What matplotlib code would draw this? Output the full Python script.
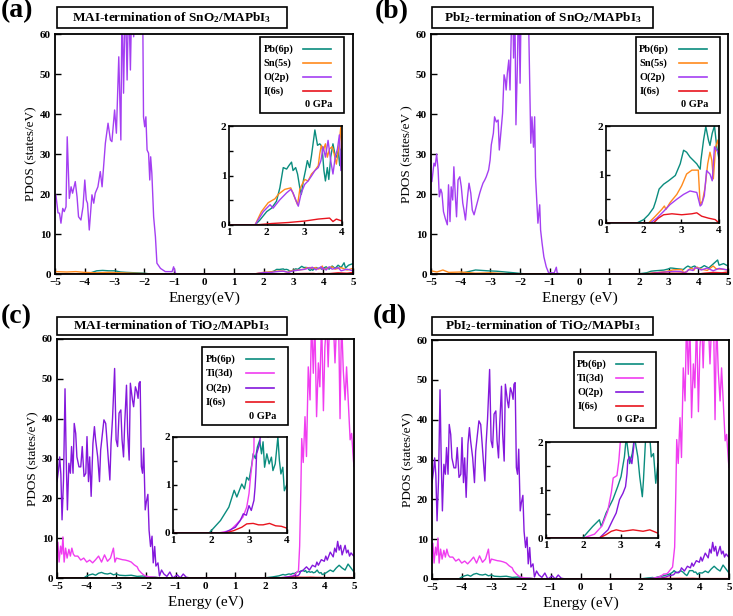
import numpy as np
import matplotlib
matplotlib.use('Agg')
import matplotlib.pyplot as plt
from matplotlib.patches import Rectangle
from matplotlib.lines import Line2D

plt.rcParams['font.family'] = 'Liberation Serif'
plt.rcParams['font.weight'] = 'bold'
plt.rcParams['mathtext.fontset'] = 'custom'
plt.rcParams['mathtext.rm'] = 'Liberation Serif:bold'
plt.rcParams['mathtext.default'] = 'rm'

# ---------------- panel (a): MAI-termination of SnO2 ----------------
a_pb_left = [(-5, 0), (-3.9, 0), (-3.8, 0.3), (-3.6, 0.8), (-3.4, 0.9), (-3.2, 0.8), (-3.0, 0.8),
             (-2.8, 0.5), (-2.6, 0.4), (-2.3, 0.3), (-2.0, 0.2), (-1.8, 0), (1.6, 0)]
a_pb_ins = [(1.69, 0), (1.82, 0.1), (2.0, 0.27), (2.13, 0.34), (2.26, 0.48), (2.35, 0.75), (2.44, 1.16),
            (2.53, 1.13), (2.59, 1.2), (2.66, 1.27), (2.7, 1.1), (2.77, 1.16), (2.82, 1.03), (2.88, 0.75),
            (2.92, 0.62), (2.98, 0.92), (3.03, 1.1), (3.08, 1.3), (3.14, 1.16), (3.19, 1.4), (3.28, 1.92),
            (3.35, 1.61), (3.41, 1.64), (3.47, 1.58), (3.52, 1.1), (3.56, 0.89), (3.61, 1.16), (3.65, 0.92),
            (3.7, 1.37), (3.76, 1.64), (3.81, 1.44), (3.86, 1.37), (3.9, 1.5), (3.94, 1.2), (3.98, 1.54), (4.0, 1.44)]
a_pb_tail = [(4.1, 1.8), (4.2, 1.2), (4.3, 2.0), (4.4, 1.4), (4.5, 2.2), (4.6, 1.6), (4.7, 2.8), (4.75, 1.5),
             (4.85, 2.2), (5.0, 2.6)]

a_sn_left = [(-5, 0.6), (-4.6, 0.5), (-4.3, 0.6), (-4.0, 0.4), (-3.6, 0.3), (-3.2, 0.4), (-2.8, 0.3),
             (-2.4, 0.2), (-2.0, 0.1), (-1.6, 0), (1.6, 0)]
a_sn_ins = [(1.69, 0), (1.86, 0.27), (2.04, 0.45), (2.22, 0.53), (2.31, 0.62), (2.48, 0.72), (2.64, 0.75),
            (2.73, 0.58), (2.82, 0.41), (2.88, 0.72), (2.94, 0.82), (3.01, 0.92), (3.1, 0.89), (3.19, 1.03),
            (3.28, 1.1), (3.37, 1.2), (3.41, 1.44), (3.45, 1.61), (3.5, 1.5), (3.56, 1.64), (3.61, 1.37),
            (3.67, 1.54), (3.74, 1.58), (3.79, 1.44), (3.85, 1.23), (3.91, 1.54), (3.97, 1.99), (4.0, 1.23)]
a_sn_tail = [(4.1, 1.4), (4.3, 1.8), (4.4, 1.2), (4.6, 1.6), (4.8, 1.0), (5.0, 1.4)]

a_o_left = [(-5.0, 19.8), (-4.97, 19.8), (-4.90, 15.3), (-4.85, 15.2), (-4.80, 12.7), (-4.74, 16.4),
            (-4.69, 15.6), (-4.63, 16.8), (-4.59, 34.3), (-4.52, 18.9), (-4.46, 21.8), (-4.41, 20.2),
            (-4.32, 23.1), (-4.26, 19.3), (-4.21, 14.3), (-4.13, 13.5), (-4.06, 16.8), (-4.00, 23.5),
            (-3.95, 18.5), (-3.91, 17.7), (-3.85, 11.0), (-3.76, 19.8), (-3.70, 17.7), (-3.65, 20.2),
            (-3.56, 21.8), (-3.48, 25.6), (-3.42, 21.8), (-3.39, 24.8), (-3.31, 32.7), (-3.22, 37.7),
            (-3.14, 33.5), (-3.09, 33.1), (-3.00, 41.0), (-2.94, 35.2), (-2.86, 54.3), (-2.79, 33.5),
            (-2.75, 70), (-2.70, 45.2), (-2.64, 70), (-2.58, 48.5), (-2.53, 70), (-2.47, 51), (-2.42, 70),
            (-2.36, 59.3), (-2.30, 70), (-2.17, 70), (-2.06, 70), (-2.03, 39.3), (-1.99, 36.8),
            (-1.95, 39.3), (-1.91, 31), (-1.86, 30.2), (-1.82, 23.5), (-1.79, 29.3), (-1.75, 25.2),
            (-1.69, 14.3), (-1.63, 9.3), (-1.58, 2.7), (-1.46, 1.4), (-1.30, 0.6), (-1.07, 0.6),
            (-1.02, 1.8), (-0.96, 0.2), (-0.9, 0), (1.6, 0)]
a_o_ins = [(1.69, 0), (1.91, 0.27), (2.09, 0.41), (2.17, 0.34), (2.35, 0.51), (2.53, 0.65), (2.64, 0.72),
           (2.7, 0.65), (2.77, 0.51), (2.84, 0.38), (2.92, 0.65), (3.01, 0.82), (3.1, 0.89), (3.19, 0.99),
           (3.28, 1.1), (3.37, 1.16), (3.44, 1.3), (3.5, 1.58), (3.56, 1.37), (3.63, 1.71), (3.7, 1.3),
           (3.76, 1.03), (3.82, 1.37), (3.88, 1.54), (3.93, 1.82), (3.97, 1.1), (4.0, 1.5)]
a_o_tail = [(4.1, 1.0), (4.2, 1.8), (4.3, 1.2), (4.5, 1.6), (4.6, 0.8), (4.8, 1.2), (5.0, 0.8)]

a_i_left = [(-5, 0), (1.6, 0)]
a_i_ins = [(1.69, 0), (2.13, 0.03), (2.57, 0.05), (3.01, 0.08), (3.37, 0.12), (3.67, 0.14), (3.76, 0.07),
           (3.85, 0.12), (4.0, 0.08)]
a_i_tail = [(4.2, 0.1), (4.5, 0.3), (4.8, 0.2), (5.0, 0.4)]

# ---------------- panel (b): PbI2-termination of SnO2 ----------------
b_pb_left = [(-5, 0), (-4.1, 0), (-3.8, 0.5), (-3.5, 1.0), (-3.3, 0.9), (-3.1, 0.8), (-2.8, 0.7),
             (-2.5, 0.5), (-2.2, 0.3), (-1.8, 0), (1.75, 0)]
b_pb_ins = [(1.82, 0), (2.0, 0.07), (2.13, 0.17), (2.26, 0.31), (2.32, 0.45), (2.41, 0.7), (2.53, 0.8),
            (2.66, 0.87), (2.84, 0.98), (2.97, 1.22), (3.06, 1.5), (3.14, 1.46), (3.23, 1.36), (3.32, 1.29),
            (3.41, 1.22), (3.5, 1.11), (3.52, 1.29), (3.59, 1.71), (3.65, 1.99), (3.72, 1.71), (3.76, 1.6),
            (3.82, 1.85), (3.88, 2.0), (3.94, 1.57), (4.0, 1.32)]
b_pb_tail = [(4.1, 1.6), (4.2, 2.1), (4.35, 1.5), (4.5, 2.5), (4.65, 3.5), (4.7, 2.2), (4.85, 2.6), (5.0, 2.0)]

b_sn_left = [(-5, 0.8), (-4.8, 0.5), (-4.6, 1.0), (-4.4, 0.4), (-4.0, 0.5), (-3.5, 0.2), (-3.0, 0.3),
             (-2.5, 0.1), (-2.0, 0), (2.05, 0)]
b_sn_ins = [(2.13, 0), (2.31, 0.14), (2.48, 0.28), (2.55, 0.35), (2.59, 0.28), (2.7, 0.42), (2.88, 0.59),
            (3.01, 0.77), (3.14, 1.01), (3.28, 1.09), (3.45, 1.09), (3.5, 0.38), (3.56, 0.45), (3.63, 0.73),
            (3.7, 1.22), (3.76, 1.46), (3.81, 1.29), (3.85, 0.91), (3.91, 1.57), (3.97, 1.71), (4.0, 1.5)]
b_sn_tail = [(4.1, 1.2), (4.3, 0.9), (4.5, 2.0), (4.6, 1.3), (4.8, 1.2), (5.0, 1.0)]

b_o_left = [(-5.0, 23.1), (-4.97, 23.1), (-4.90, 27.7), (-4.86, 27), (-4.81, 30), (-4.76, 26), (-4.72, 19.3),
            (-4.67, 21.2), (-4.63, 20.2), (-4.58, 15.6), (-4.52, 13.9), (-4.45, 12.3), (-4.41, 22.3),
            (-4.36, 13.1), (-4.32, 21.8), (-4.27, 18.5), (-4.23, 26.8), (-4.18, 19.3), (-4.14, 14.3),
            (-4.09, 23.5), (-4.03, 24.3), (-3.98, 21.8), (-3.93, 17.7), (-3.89, 16), (-3.84, 13.5),
            (-3.77, 19.3), (-3.72, 22.7), (-3.66, 20.2), (-3.61, 16), (-3.55, 14.8), (-3.48, 16.8),
            (-3.42, 18.5), (-3.36, 20.2), (-3.31, 21.4), (-3.25, 22.7), (-3.19, 23.5), (-3.14, 24.3),
            (-3.06, 26), (-3.01, 28.5), (-2.97, 32.3), (-2.90, 35.2), (-2.86, 39.3), (-2.80, 38),
            (-2.74, 38.5), (-2.70, 31), (-2.63, 36.8), (-2.59, 40.2), (-2.54, 49.8), (-2.50, 48.5),
            (-2.47, 46), (-2.43, 50.2), (-2.38, 53.5), (-2.34, 46), (-2.30, 59.3), (-2.25, 70), (-2.22, 54),
            (-2.18, 70), (-2.14, 37.3), (-2.09, 52.7), (-2.05, 70), (-2.00, 47.7), (-1.96, 70), (-1.73, 70),
            (-1.64, 32.7), (-1.60, 39.3), (-1.55, 31.7), (-1.51, 39.3), (-1.48, 24.3), (-1.40, 12.7),
            (-1.34, 17.3), (-1.31, 11), (-1.26, 7.7), (-1.20, 4.3), (-1.12, 1.8), (-1.04, 0.3), (-0.85, 0.3),
            (-0.78, 1.7), (-0.75, 0.2), (-0.6, 0), (2.1, 0)]
b_o_ins = [(2.17, 0), (2.35, 0.1), (2.53, 0.24), (2.7, 0.38), (2.88, 0.49), (3.06, 0.59), (3.23, 0.66),
           (3.41, 0.63), (3.5, 0.35), (3.54, 0.38), (3.61, 0.56), (3.67, 1.08), (3.76, 1.01), (3.82, 0.87),
           (3.88, 1.57), (3.94, 1.5), (4.0, 1.43)]
b_o_tail = [(4.1, 1.0), (4.3, 1.5), (4.5, 0.8), (4.7, 1.4), (5.0, 1.0)]

b_i_left = [(-5, 0), (2.2, 0)]
b_i_ins = [(2.26, 0), (2.39, 0.1), (2.53, 0.17), (2.75, 0.19), (3.01, 0.17), (3.28, 0.19), (3.41, 0.21),
           (3.54, 0.14), (3.72, 0.1), (3.9, 0.07), (4.0, 0.0)]
b_i_tail = [(4.2, 0.2), (4.5, 0.4), (4.8, 0.3), (5.0, 0.5)]

# ---------------- panels (c), (d): TiO2 (main curves shared) ----------------
cd_pb_left = [(-5, 0), (-4.1, 0), (-4.0, 0.5), (-3.9, 0.8), (-3.8, 1.0), (-3.7, 0.7), (-3.6, 1.2),
              (-3.5, 1.4), (-3.4, 1.1), (-3.3, 1.0), (-3.2, 1.2), (-3.1, 0.8), (-3.0, 1.0), (-2.9, 0.7),
              (-2.7, 0.6), (-2.5, 0.7), (-2.3, 0.4), (-2.1, 0.5), (-1.9, 0.2), (-1.7, 0.2), (-1.5, 0), (1.9, 0)]
cd_pb_tail = [(4.1, 1.5), (4.2, 2.0), (4.3, 1.6), (4.4, 2.5), (4.5, 3.2), (4.6, 2.5), (4.7, 2.0),
              (4.8, 3.5), (4.9, 2.5), (5.0, 1.5)]

cd_ti_left = [(-5.00, 6.5), (-4.97, 9), (-4.93, 4), (-4.88, 8), (-4.84, 6), (-4.80, 10.3), (-4.76, 4),
              (-4.71, 7.5), (-4.66, 5), (-4.60, 7.2), (-4.55, 5.5), (-4.50, 7.5), (-4.45, 6), (-4.40, 5.5),
              (-4.30, 5.5), (-4.20, 4.5), (-4.10, 5), (-4.00, 4), (-3.90, 4.5), (-3.80, 3.8), (-3.70, 4.6),
              (-3.60, 5.5), (-3.50, 4), (-3.40, 5.8), (-3.30, 4.2), (-3.20, 5), (-3.10, 7.5), (-3.05, 4),
              (-3.00, 5), (-2.90, 4.8), (-2.80, 4.6), (-2.70, 4.5), (-2.60, 4.3), (-2.50, 4.0), (-2.40, 3.3),
              (-2.30, 2.8), (-2.25, 2.0), (-2.15, 1.2), (-2.05, 0.6), (-1.90, 0.3), (-1.70, 0.2), (-1.50, 0),
              (1.95, 0)]
cd_ti_tail = [(3.17, 8), (3.21, 22), (3.24, 35), (3.29, 29), (3.35, 40.5), (3.40, 30.5), (3.46, 53),
              (3.52, 44.7), (3.57, 65), (3.63, 51.4), (3.68, 65), (3.74, 40.5), (3.80, 54), (3.85, 48),
              (3.91, 65), (3.97, 42), (4.02, 58), (4.08, 65), (4.13, 53), (4.18, 65), (4.30, 65), (4.36, 54),
              (4.42, 65), (4.48, 65), (4.53, 40), (4.58, 65), (4.64, 52), (4.70, 44.7), (4.75, 53),
              (4.81, 43.9), (4.87, 34.7), (4.92, 36.3), (4.98, 29.7), (5.00, 28)]

cd_o_left = [(-5.00, 24.2), (-4.95, 27), (-4.91, 30.4), (-4.87, 26), (-4.83, 14.6), (-4.78, 24.8),
             (-4.73, 47.5), (-4.69, 30), (-4.65, 17.1), (-4.60, 28.8), (-4.55, 26.3), (-4.51, 33),
             (-4.46, 26.3), (-4.42, 38.8), (-4.37, 36.3), (-4.33, 30.4), (-4.26, 27.9), (-4.20, 27.9),
             (-4.15, 33), (-4.09, 25.5), (-4.03, 26.3), (-3.99, 35.5), (-3.94, 24.2), (-3.90, 30.4),
             (-3.85, 20.5), (-3.79, 33.8), (-3.74, 38), (-3.70, 34.7), (-3.63, 30.4), (-3.57, 24.2),
             (-3.53, 32.1), (-3.47, 36.3), (-3.42, 39.7), (-3.36, 38.8), (-3.31, 33.8), (-3.27, 29.6),
             (-3.22, 24.6), (-3.18, 33.8), (-3.13, 40.1), (-3.06, 52.6), (-3.01, 34.7), (-2.96, 33),
             (-2.91, 41.4), (-2.85, 42.2), (-2.81, 34.7), (-2.76, 30.4), (-2.72, 38.8), (-2.66, 48.4),
             (-2.62, 36.3), (-2.57, 29.6), (-2.53, 48.9), (-2.46, 44.7), (-2.42, 43), (-2.36, 48),
             (-2.31, 46.8), (-2.27, 45.1), (-2.24, 48.9), (-2.20, 49.3), (-2.16, 28), (-2.12, 26.3),
             (-2.08, 32.6), (-2.03, 17.1), (-1.99, 19.2), (-1.94, 21), (-1.90, 12), (-1.85, 7.9),
             (-1.80, 10.5), (-1.76, 3.8), (-1.71, 7.9), (-1.67, 3), (-1.60, 3.8), (-1.55, 0.5), (-1.48, 2),
             (-1.40, 1), (-1.30, 0.4), (-1.20, 1.5), (-1.10, 0), (-0.95, 0.8), (-0.85, 0), (-0.75, 1.0),
             (-0.65, 0.2), (-0.5, 0), (2.3, 0)]
cd_o_tail = [(3.4, 2.8), (3.5, 2.0), (3.6, 3.2), (3.7, 2.8), (3.75, 4.0), (3.8, 3.2), (3.9, 4.6), (4.0, 4.2),
             (4.05, 5.5), (4.1, 4.5), (4.2, 6.5), (4.3, 5.3), (4.35, 7.5), (4.4, 6.5), (4.45, 9.2), (4.5, 7.0),
             (4.55, 8.2), (4.6, 5.8), (4.7, 8.2), (4.75, 6.3), (4.8, 7.0), (4.85, 5.5), (4.9, 6.3), (5.0, 5.4)]

cd_i_left = [(-5, 0), (2.3, 0)]
cd_i_tail = [(4.3, 0.1), (5.0, 0.1)]

c_pb_ins = [(1.95, 0), (2.25, 0.26), (2.47, 0.54), (2.61, 0.89), (2.68, 0.75), (2.81, 1.02), (2.88, 0.92),
            (2.94, 1.16), (3.0, 1.1), (3.07, 1.41), (3.11, 1.65), (3.17, 1.55), (3.22, 1.79), (3.28, 1.93),
            (3.33, 1.65), (3.37, 1.9), (3.41, 1.37), (3.47, 1.65), (3.53, 1.44), (3.59, 1.58), (3.63, 1.3),
            (3.69, 1.44), (3.76, 2.0), (3.8, 1.51), (3.84, 1.23), (3.89, 1.37), (3.93, 0.88), (4.0, 1.02)]
c_ti_ins = [(2.2, 0), (2.5, 0.05), (2.68, 0.19), (2.84, 0.33), (2.94, 0.54), (3.0, 0.82), (3.04, 1.16),
            (3.08, 1.44), (3.13, 1.72)]
c_o_ins = [(2.34, 0), (2.64, 0.12), (2.77, 0.26), (2.85, 0.4), (2.93, 0.37), (3.0, 0.57), (3.06, 0.47),
           (3.13, 0.68), (3.16, 0.95), (3.18, 1.23), (3.2, 1.65), (3.28, 1.86), (3.33, 2.3)]
c_i_ins = [(2.38, 0), (2.6, 0.05), (2.81, 0.12), (2.94, 0.19), (3.11, 0.2), (3.25, 0.17), (3.37, 0.17),
           (3.54, 0.2), (3.7, 0.15), (3.85, 0.14), (4.0, 0.1)]

d_pb_ins = [(1.98, 0), (2.25, 0.24), (2.43, 0.38), (2.48, 0.24), (2.61, 0.52), (2.79, 0.8), (2.92, 1.07),
            (3.01, 1.28), (3.1, 1.69), (3.15, 2.1), (3.24, 1.55), (3.31, 1.76), (3.37, 2.1), (3.46, 1.69),
            (3.51, 1.28), (3.58, 0.86), (3.61, 1.2), (3.67, 2.1), (3.78, 2.1), (3.82, 1.69), (3.88, 1.76),
            (3.94, 1.14), (4.0, 1.55)]
d_ti_ins = [(2.0, 0), (2.3, 0.08), (2.5, 0.25), (2.65, 0.55), (2.75, 0.95), (2.8, 1.25), (2.9, 1.3),
            (2.95, 1.6), (3.0, 2.1), (3.1, 3.0)]
d_o_ins = [(2.43, 0), (2.66, 0.17), (2.79, 0.38), (2.88, 0.52), (2.97, 0.8), (3.06, 0.93), (3.13, 1.07),
           (3.17, 1.34), (3.19, 1.62), (3.24, 1.69), (3.3, 1.55), (3.35, 1.9)]
d_i_ins = [(2.43, 0), (2.61, 0.07), (2.75, 0.14), (2.88, 0.17), (3.06, 0.14), (3.33, 0.17), (3.6, 0.14),
           (3.78, 0.17), (4.0, 0.1)]

key_sn = ['Pb(6p)', 'Sn(5s)', 'O(2p)', 'I(6s)']
key_ti = ['Pb(6p)', 'Ti(3d)', 'O(2p)', 'I(6s)']

teal = '#0a8c7e'
orange = '#ff8a1c'
purple_sn = '#a43ff2'
purple_ti = '#8418dc'
magenta = '#f03df0'
red = '#e8141e'

W, H = 733, 616


def pts(*parts):
    arr = np.array([p for part in parts for p in part], dtype=float)
    return arr[:, 0], arr[:, 1]


def frect(x0, y0, x1, y1):
    # pixel box (top-left origin) -> figure fraction rect
    return [x0 / W, 1 - y1 / H, (x1 - x0) / W, (y1 - y0) / H]


def draw_key(ax, box, names, colors):
    x0, y0, x1, y1 = box
    ax.add_patch(Rectangle((x0, y0), x1 - x0, y1 - y0, transform=ax.transAxes,
                           facecolor='white', edgecolor='black', lw=1.2, zorder=5))
    w, h = x1 - x0, y1 - y0
    for i, (name, c) in enumerate(zip(names, colors)):
        yy = y1 - h * (0.155 + 0.185 * i)
        ax.text(x0 + 0.04 * w, yy, name, transform=ax.transAxes, fontsize=7.5,
                va='center', ha='left', zorder=6)
        ax.add_line(Line2D([x0 + 0.51 * w, x0 + 0.84 * w], [yy, yy], transform=ax.transAxes,
                           color=c, lw=1.2, zorder=6))
    yy = y1 - h * (0.155 + 0.185 * 4)
    ax.text(x0 + 0.86 * w, yy, '0 GPa', transform=ax.transAxes, fontsize=7.5,
            va='center', ha='right', zorder=6)


def panel(fig, main_px, inset_px, curves, key_box, names, title, title_px, tag, tag_xy, xlabel, ylabel):
    ax = fig.add_axes(frect(*main_px))
    ins = fig.add_axes(frect(*inset_px))
    for e, v, c in curves:
        ax.plot(e, v, color=c, lw=1.0)
        ins.plot(e, v, color=c, lw=1.0)
    ax.set_xlim(-5, 5)
    ax.set_ylim(0, 60)
    ax.set_xticks(range(-5, 6))
    ax.set_yticks(range(0, 61, 10))
    ax.tick_params(direction='in', length=4, width=1, labelsize=8, pad=3)
    ax.set_xlabel(xlabel, fontsize=11, labelpad=3)
    ax.set_ylabel(ylabel, fontsize=9.5, labelpad=2)
    for s in ax.spines.values():
        s.set_linewidth(1.3)

    ins.set_xlim(1, 4)
    ins.set_ylim(0, 2)
    ins.set_xticks([1, 2, 3, 4])
    ins.set_yticks([0, 1, 2])
    ins.set_yticks([0.5, 1.5], minor=True)
    ins.tick_params(which='both', direction='in', length=3, width=1, labelsize=8, pad=2)
    for s in ins.spines.values():
        s.set_linewidth(1.2)

    draw_key(ax, key_box, names, [c[2] for c in curves])

    tx0, ty0, tx1, ty1 = title_px
    fig.add_artist(Rectangle((tx0 / W, 1 - ty1 / H), (tx1 - tx0) / W, (ty1 - ty0) / H,
                             transform=fig.transFigure, fill=False, edgecolor='black', lw=1.2))
    fig.text((tx0 + tx1) / 2 / W, 1 - (ty0 + ty1) / 2 / H, title, fontsize=9.5,
             ha='center', va='center')
    fig.text(tag_xy[0] / W, 1 - tag_xy[1] / H, tag, fontsize=20, ha='left', va='center')
    return ax, ins


fig = plt.figure(figsize=(W / 100, H / 100), dpi=100)

curves_a = [
    (*pts(a_pb_left, a_pb_ins, a_pb_tail), teal),
    (*pts(a_sn_left, a_sn_ins, a_sn_tail), orange),
    (*pts(a_o_left, a_o_ins, a_o_tail), purple_sn),
    (*pts(a_i_left, a_i_ins, a_i_tail), red),
]
curves_b = [
    (*pts(b_pb_left, b_pb_ins, b_pb_tail), teal),
    (*pts(b_sn_left, b_sn_ins, b_sn_tail), orange),
    (*pts(b_o_left, b_o_ins, b_o_tail), purple_sn),
    (*pts(b_i_left, b_i_ins, b_i_tail), red),
]
curves_c = [
    (*pts(cd_pb_left, c_pb_ins, cd_pb_tail), teal),
    (*pts(cd_ti_left, c_ti_ins, cd_ti_tail), magenta),
    (*pts(cd_o_left, c_o_ins, cd_o_tail), purple_ti),
    (*pts(cd_i_left, c_i_ins, cd_i_tail), red),
]
curves_d = [
    (*pts(cd_pb_left, d_pb_ins, cd_pb_tail), teal),
    (*pts(cd_ti_left, d_ti_ins, cd_ti_tail), magenta),
    (*pts(cd_o_left, d_o_ins, cd_o_tail), purple_ti),
    (*pts(cd_i_left, d_i_ins, cd_i_tail), red),
]

panel(fig, (55, 34, 353, 274), (229, 126, 342, 225), curves_a,
      (0.688, 0.671, 0.970, 0.9875), key_sn, 'MAI-termination of SnO$_2$/MAPbI$_3$', (57, 7, 287, 28),
      '(a)', (1, 11), 'Energy(eV)', 'PDOS (states/eV)')
panel(fig, (431, 34, 728, 274), (606, 126, 719, 223), curves_b,
      (0.69, 0.671, 0.973, 0.9875), key_sn, 'PbI$_2$-termination of SnO$_2$/MAPbI$_3$', (432, 7, 653, 28),
      '(b)', (375, 12), 'Energy (eV)', 'PDOS (states/eV )')
panel(fig, (57, 339, 354, 578), (173, 437, 287, 533), curves_c,
      (0.488, 0.64, 0.778, 0.967), key_ti, 'MAI-termination of TiO$_2$/MAPbI$_3$', (57, 317, 287, 335),
      '(c)', (1, 317), 'Energy (eV)', 'PDOS (states/eV)')
panel(fig, (432, 340, 729, 579), (546, 442, 658, 538), curves_d,
      (0.478, 0.632, 0.754, 0.95), key_ti, 'PbI$_2$-termination of TiO$_2$/MAPbI$_3$', (432, 317, 653, 335),
      '(d)', (373, 317), 'Energy (eV)', 'PDOS (states/eV)')

fig.savefig('out.png', dpi=100)
